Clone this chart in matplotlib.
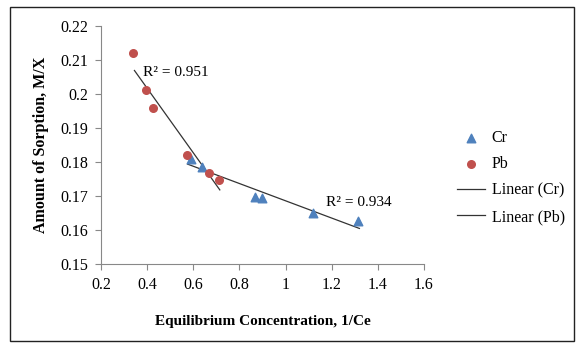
import numpy as np
import matplotlib
matplotlib.use("Agg")
import matplotlib.pyplot as plt
from matplotlib.patches import Rectangle

# datos
cr_x = [0.59, 0.638, 0.868, 0.898, 1.119, 1.314]
cr_y = [0.1809, 0.1785, 0.1697, 0.1694, 0.1650, 0.1626]
pb_x = [0.339, 0.395, 0.425, 0.573, 0.668, 0.711]
pb_y = [0.2121, 0.2012, 0.1959, 0.1820, 0.1768, 0.1747]
r2_cr = "R² = 0.934"
r2_pb = "R² = 0.951"

plt.rcParams['font.family'] = ['Liberation Serif', 'DejaVu Serif']

fig = plt.figure(figsize=(5.79, 3.43), dpi=100)
ax = fig.add_axes([0.1744, 0.2303, 0.5579, 0.6939])

ax.scatter(cr_x, cr_y, marker='^', s=38, color='#4F81BD', zorder=3, label='Cr')
ax.scatter(pb_x, pb_y, marker='o', s=30, color='#C0504D', zorder=3, label='Pb')

# lineas de tendencia
m, b = np.polyfit(cr_x, cr_y, 1)
xs = np.array([0.575, 1.32])
ax.plot(xs, m * xs + b, color='#333333', lw=0.9, label='Linear (Cr)', zorder=2)
m, b = np.polyfit(pb_x, pb_y, 1)
xs = np.array([0.345, 0.715])
ax.plot(xs, m * xs + b, color='#333333', lw=0.9, label='Linear (Pb)', zorder=2)

ax.text(0.38, 0.2063, r2_pb, fontsize=11, va='center')
ax.text(1.175, 0.1680, r2_cr, fontsize=11, va='center')

ax.set_xlim(0.2, 1.6)
ax.set_ylim(0.15, 0.22)
ax.set_xticks(np.arange(0.2, 1.61, 0.2))
ax.set_xticklabels(['0.2', '0.4', '0.6', '0.8', '1', '1.2', '1.4', '1.6'])
ax.set_yticks(np.arange(0.15, 0.2201, 0.01))
ax.set_yticklabels(['0.15', '0.16', '0.17', '0.18', '0.19', '0.2', '0.21', '0.22'])
ax.tick_params(labelsize=11.5, direction='out', length=4, color='#888888', pad=5)
for s in ['top', 'right']:
    ax.spines[s].set_visible(False)
for s in ['left', 'bottom']:
    ax.spines[s].set_color('#888888')

ax.set_xlabel('Equilibrium Concentration, 1/Ce', fontsize=11, fontweight='bold', labelpad=16)
ax.set_ylabel('Amount of Sorption, M/X', fontsize=11.5, fontweight='bold', labelpad=8)

fig.legend(*ax.get_legend_handles_labels(), loc='center left',
           bbox_to_anchor=(0.775, 0.483), frameon=False, fontsize=11.5,
           handlelength=1.8, labelspacing=0.65, handletextpad=0.4, borderpad=0)

fig.patches.append(Rectangle((0.017, 0.005), 0.975, 0.975, transform=fig.transFigure,
                             fill=False, edgecolor='#222222', lw=1))

fig.savefig('out.png', dpi=100)
